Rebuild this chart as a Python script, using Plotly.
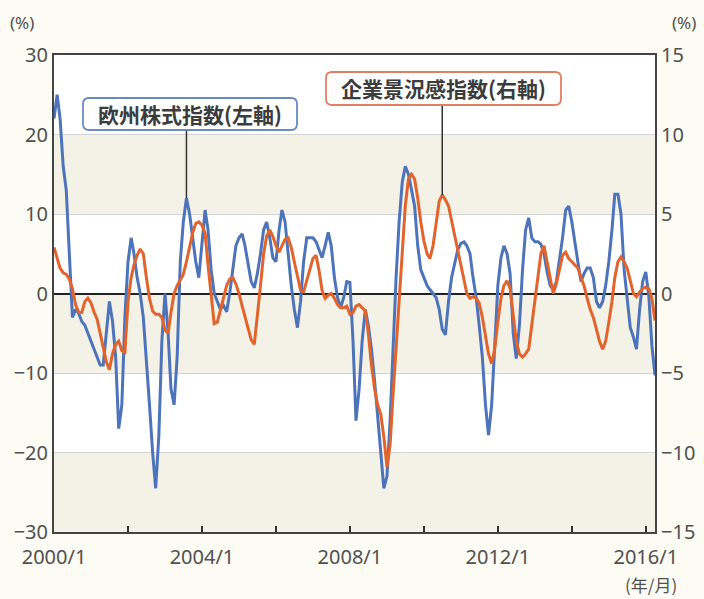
import plotly.graph_objects as go
import pandas as pd

dates = pd.date_range("2000-01-01", periods=196, freq="MS")

# 欧州株式指数 (left axis, %)
stock = [
    22, 25, 22, 16, 13, 5, -3, -2, -2.5, -3.5,
    -4, -5, -6, -7, -8, -9, -9, -5, -1, -3.5,
    -8, -17, -14, -3, 4, 7, 5, 2, 0, -3,
    -8, -14, -20, -24.5, -18, -6, 0, -5, -12, -14,
    -8, 4, 9, 12, 10, 7, 4, 2, 6, 10.5,
    8, 3, 0, -1, -2, -1.5, -2.3, 0, 3, 6,
    7, 7.5, 6, 3.5, 1.5, 0.7, 2.5, 5, 8, 9,
    7, 4.5, 4, 8, 10.5, 9, 5, 1, -2, -4.3,
    -1, 4, 7, 7, 7, 6.5, 5.5, 4.5, 6, 7.7,
    6, 2, -0.5, -1.8, -0.5, 1.5, 1.4, -6, -16, -12,
    -6, -2, -4, -7, -11, -15, -20, -24.5, -23, -16,
    -7, 2, 9, 14, 16, 15, 13, 11, 6, 3,
    2, 1, 0.5, 0, -0.5, -2, -4.5, -5.2, -1, 2,
    4, 5.5, 6.3, 6.5, 6, 5, 2, -0.5, -4, -8,
    -14, -17.8, -14, -6, 1, 4.5, 6, 5, 2.5, -5,
    -8.2, -4, 3, 8, 9.5, 7, 6.5, 6.5, 6.2, 5,
    2.7, 1, 0.5, 1.5, 4, 7, 10.5, 11, 9, 6,
    4, 1.5, 2.5, 3.2, 3.2, 2, -1, -1.8, -1, 1,
    4, 8, 12.5, 12.5, 10, 3, -1, -4.3, -5.5, -7,
    -2, 1.5, 2.7, -0.5, -6.5, -10.3,
]

# 企業景況感指数 (right axis, %)
sentiment = [
    2.9, 2.3, 1.6, 1.3, 1.2, 0.9, 0.3, -0.7, -1.2, -1.2,
    -0.5, -0.3, -0.6, -1.2, -1.6, -2.5, -3.4, -4.3, -4.8, -3.8,
    -3.2, -3.0, -3.6, -3.7, -0.5, 1.0, 1.8, 2.4, 2.8, 2.5,
    1.0, -0.3, -1.1, -1.3, -1.3, -1.5, -2.3, -2.5, -1.2, 0.0,
    0.5, 0.9, 1.2, 2.0, 3.0, 3.8, 4.4, 4.5, 4.3, 3.8,
    1.8, -0.3, -1.9, -1.8, -1.0, -0.2, 0.5, 0.9, 1.0, 0.6,
    0.0, -0.8, -1.5, -2.2, -2.9, -3.2, -1.5, 0.5, 2.5, 3.6,
    4.0, 3.6, 3.0, 2.6, 3.0, 3.4, 3.5, 2.9, 2.0, 1.1,
    0.2, 0.1, 0.8, 1.6, 2.2, 2.4, 1.5, 0.2, -0.3, -0.1,
    0.0, -0.3, -0.7, -0.9, -0.9, -0.8, -1.3, -1.2, -0.8, -0.7,
    -0.9, -1.1, -2.5, -4.5, -6.0, -7.0, -7.6, -9.0, -10.9, -9.5,
    -6.5, -3.5, 0.0, 3.0, 5.5, 7.2, 7.5, 7.2, 6.0, 4.5,
    3.3, 2.5, 2.2, 3.0, 4.5, 5.8, 6.2, 5.9, 5.5, 4.6,
    3.7, 2.8, 1.8, 0.9, 0.0, -0.3, -0.2, -0.3, -0.6, -1.5,
    -2.8, -3.8, -4.4, -3.5, -1.8, -0.3, 0.5, 0.8, 0.3, -1.5,
    -3.0, -3.8, -4.0, -3.8, -3.5, -2.0, -0.5, 1.0, 2.5, 3.0,
    2.0, 1.0, 0.0, 0.6, 1.6, 2.4, 2.6, 2.2, 2.0, 1.8,
    1.6, 1.0, 0.5, -0.3, -1.0, -1.5, -2.3, -3.0, -3.5, -3.0,
    -1.8, -0.5, 1.0, 2.0, 2.3, 2.0, 1.6, 0.8, 0.0, -0.2,
    0.1, 0.3, 0.4, 0.3, -0.3, -1.7,
]

tick_dates = pd.date_range("2000-01-01", "2016-01-01", freq="24MS")
tick_text = ["2000/1", "", "2004/1", "", "2008/1", "", "2012/1", "", "2016/1"]
left_ticks = [-30, -20, -10, 0, 10, 20, 30]
right_ticks = [-15, -10, -5, 0, 5, 10, 15]
bands = [(10, 20), (-10, 0), (-30, -20)]
label_stock = "欧州株式指数(左軸)"
label_sent = "企業景況感指数(右軸)"

BLUE = "#4d74ba"
ORANGE = "#e2632c"
TXT = "#505050"

W, H = 704, 599
ML, MR, MT, MB = 54, 49, 55, 67
PW, PH = W - ML - MR, H - MT - MB


def px2paper(x, y):
    return (x - ML) / PW, (H - MB - y) / PH


def rounded_rect(x0, y0, x1, y1, r):
    def p(x, y):
        a, b = px2paper(x, y)
        return f"{a:.5f},{b:.5f}"
    return (f"M {p(x0 + r, y0)} L {p(x1 - r, y0)} Q {p(x1, y0)} {p(x1, y0 + r)} "
            f"L {p(x1, y1 - r)} Q {p(x1, y1)} {p(x1 - r, y1)} "
            f"L {p(x0 + r, y1)} Q {p(x0, y1)} {p(x0, y1 - r)} "
            f"L {p(x0, y0 + r)} Q {p(x0, y0)} {p(x0 + r, y0)} Z")


fig = go.Figure()
fig.add_trace(go.Scatter(x=dates, y=stock, mode="lines", yaxis="y",
                         line=dict(color=BLUE, width=3), name=label_stock))
fig.add_trace(go.Scatter(x=dates, y=sentiment, mode="lines", yaxis="y2",
                         line=dict(color=ORANGE, width=3), name=label_sent))

for lo, hi in bands:
    fig.add_shape(type="rect", xref="paper", yref="y", x0=0, x1=1, y0=lo, y1=hi,
                  fillcolor="#f4f2e6", line=dict(width=0), layer="below")

# leader lines (from data point up to label box)
fig.add_shape(type="line", xref="x", yref="y", x0=dates[43], x1=dates[43],
              y0=stock[43], y1=20.6, line=dict(color="#333333", width=1.5))
fig.add_shape(type="line", xref="x", yref="y2", x0=dates[126], x1=dates[126],
              y0=sentiment[126], y1=11.9, line=dict(color="#333333", width=1.5))

# label boxes
fig.add_shape(type="path", xref="paper", yref="paper",
              path=rounded_rect(83, 98, 297, 130, 6),
              fillcolor="white", line=dict(color="#6a8ac4", width=1.8))
fig.add_shape(type="path", xref="paper", yref="paper",
              path=rounded_rect(326, 72, 561, 105, 6),
              fillcolor="white", line=dict(color="#e08060", width=1.8))

bx, by = px2paper(190, 114)
fig.add_annotation(x=bx, y=by, xref="paper", yref="paper", text=f"<b>{label_stock}</b>",
                   showarrow=False, xanchor="center", yanchor="middle",
                   font=dict(family="Noto Sans CJK JP", size=21, color="#3c3c3c"))
ox, oy = px2paper(443.5, 88.5)
fig.add_annotation(x=ox, y=oy, xref="paper", yref="paper", text=f"<b>{label_sent}</b>",
                   showarrow=False, xanchor="center", yanchor="middle",
                   font=dict(family="Noto Sans CJK JP", size=21, color="#3c3c3c"))

lx, ly = px2paper(22, 23)
fig.add_annotation(x=lx, y=ly, xref="paper", yref="paper", text="(%)",
                   showarrow=False, xanchor="center", yanchor="middle",
                   font=dict(family="Noto Sans", size=17, color=TXT))
rx, ry = px2paper(684, 23)
fig.add_annotation(x=rx, y=ry, xref="paper", yref="paper", text="(%)",
                   showarrow=False, xanchor="center", yanchor="middle",
                   font=dict(family="Noto Sans", size=17, color=TXT))
ux, uy = px2paper(651, 584)
fig.add_annotation(x=ux, y=uy, xref="paper", yref="paper", text="(年/月)",
                   showarrow=False, xanchor="center", yanchor="middle",
                   font=dict(family="Noto Sans CJK JP", size=17, color=TXT))

fig.update_layout(
    width=W, height=H,
    margin=dict(l=ML, r=MR, t=MT, b=MB),
    paper_bgcolor="#fcfbf4", plot_bgcolor="white",
    showlegend=False,
    font=dict(family="Noto Sans", size=20, color=TXT),
    xaxis=dict(
        range=[dates[0], dates[-1]], tickvals=tick_dates, ticktext=tick_text,
        ticks="inside", ticklen=6, tickwidth=2, tickcolor="#333333",
        ticklabelstandoff=6, automargin=False,
        showgrid=False, showline=True, linecolor="#444444", linewidth=2,
        mirror=True, tickfont=dict(size=20, color=TXT), zeroline=False,
    ),
    yaxis=dict(
        range=[-30, 30], tickvals=left_ticks, showgrid=True, automargin=False,
        gridcolor="#d4d4d4", gridwidth=1, zeroline=True, zerolinecolor="#222222",
        zerolinewidth=1.5, showline=True, linecolor="#444444", linewidth=2,
        ticks="", tickfont=dict(size=20, color=TXT), ticklabelstandoff=0,
    ),
    yaxis2=dict(
        range=[-15, 15], tickvals=right_ticks, overlaying="y", side="right",
        showgrid=False, zeroline=False, showline=True, linecolor="#444444",
        linewidth=2, ticks="", tickfont=dict(size=20, color=TXT), automargin=False,
    ),
)

fig.write_html("out.html", config={"displayModeBar": False},
               post_script="document.body.style.margin='0px';"
                           "document.body.style.overflow='hidden';")
